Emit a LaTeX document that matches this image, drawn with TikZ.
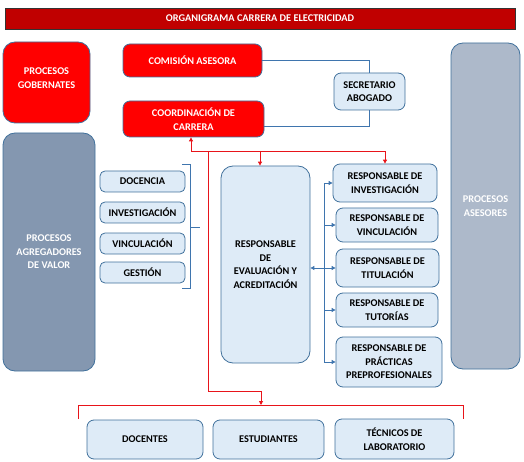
\documentclass[tikz,border=0pt]{standalone}
\usepackage{fontspec}
\setmainfont{Carlito}
\usetikzlibrary{arrows.meta}
\definecolor{titred}{HTML}{C00000}
\definecolor{boxred}{HTML}{FF0000}
\definecolor{edgeblue}{HTML}{41719C}
\definecolor{lightbox}{HTML}{DEEBF7}
\definecolor{agrfill}{HTML}{8497B0}
\definecolor{asefill}{HTML}{ADB9CA}
\definecolor{linkblue}{HTML}{3F75AE}
\definecolor{linkred}{HTML}{E8141A}
\tikzset{
  base/.style={draw=edgeblue, line width=0.8pt, rounded corners=7pt, align=center,
    font=\fontsize{10.3}{13.5}\selectfont\bfseries, inner sep=0pt},
  redbox/.style={base, fill=boxred, text=white},
  lbox/.style={base, fill=lightbox, text=black},
  bigbox/.style={base, rounded corners=12pt, text=white},
  redlink/.style={draw=linkred, line width=0.9pt},
  bluelink/.style={draw=linkblue, line width=0.9pt},
  tipr/.style={-{Triangle[length=4pt,width=4pt]}},
}
\begin{document}
\begin{tikzpicture}[x=1pt,y=-1pt]
\useasboundingbox (0,0) rectangle (524,462);
% title
\node[draw=black!80, line width=0.6pt, fill=titred, text=white, minimum width=510pt, minimum height=21pt,
  font=\fontsize{10.3}{12}\selectfont\bfseries, inner sep=0pt] (title) at (260,18.5) {ORGANIGRAMA CARRERA DE ELECTRICIDAD};
% big side boxes
\node[redbox, rounded corners=12pt, minimum width=87pt, minimum height=81pt, text depth=9pt] (gob) at (46.5,82.5) {PROCESOS\\GOBERNATES};
\node[bigbox, fill=agrfill, minimum width=92pt, minimum height=238pt] (agr) at (49,252) {PROCESOS\\AGREGADORES\\DE VALOR};
\node[bigbox, fill=asefill, minimum width=69pt, minimum height=326pt] (ase) at (485.5,206) {PROCESOS\\ASESORES};
% top
\node[redbox, minimum width=139pt, minimum height=33pt] (com) at (192.5,60.5) {COMISIÓN ASESORA};
\node[redbox, minimum width=141pt, minimum height=36pt] (coord) at (193.5,119) {COORDINACIÓN DE\\CARRERA};
\node[lbox, minimum width=71pt, minimum height=37pt] (sec) at (369.5,91.5) {SECRETARIO\\ABOGADO};
% left column
\node[lbox, rounded corners=5pt, minimum width=85pt, minimum height=21pt] (doc) at (142.5,181.5) {DOCENCIA};
\node[lbox, rounded corners=5pt, minimum width=85pt, minimum height=21pt] (inv) at (142.5,212.5) {INVESTIGACIÓN};
\node[lbox, rounded corners=5pt, minimum width=85pt, minimum height=21pt] (vin) at (142.5,243.5) {VINCULACIÓN};
\node[lbox, rounded corners=5pt, minimum width=85pt, minimum height=21pt] (ges) at (142.5,272.5) {GESTIÓN};
% evaluation
\node[lbox, rounded corners=12pt, minimum width=89pt, minimum height=197pt] (eval) at (265.5,264.5) {RESPONSABLE\\DE\\EVALUACIÓN Y\\ACREDITACIÓN};
% right column
\node[lbox, minimum width=104pt, minimum height=38pt] (rinv) at (385,183) {RESPONSABLE DE\\INVESTIGACIÓN};
\node[lbox, minimum width=102pt, minimum height=34pt] (rvin) at (387,225) {RESPONSABLE DE\\VINCULACIÓN};
\node[lbox, minimum width=103pt, minimum height=38pt] (rtit) at (387.5,268) {RESPONSABLE DE\\TITULACIÓN};
\node[lbox, minimum width=102pt, minimum height=34pt] (rtut) at (387,310) {RESPONSABLE DE\\TUTORÍAS};
\node[lbox, minimum width=106pt, minimum height=50pt] (rprac) at (389,362) {RESPONSABLE DE\\PRÁCTICAS\\PREPROFESIONALES};
% bottom
\node[lbox, minimum width=116pt, minimum height=39pt] (docen) at (145,439.5) {DOCENTES};
\node[lbox, minimum width=111pt, minimum height=39pt] (estu) at (268.5,439.5) {ESTUDIANTES};
\node[lbox, minimum width=119pt, minimum height=40pt] (tecn) at (394.5,439) {TÉCNICOS DE\\LABORATORIO};
% blue links top
\coordinate (c1) at (264,126);
\draw[bluelink] (com.east) -| (sec.north);
\draw[bluelink] (sec.south) |- (c1);
% left bracket
\coordinate (b1) at (182,164);
\coordinate (b2) at (190,164);
\coordinate (b3) at (190,288);
\coordinate (b4) at (182,288);
\coordinate (bm) at (190,227);
\coordinate (bt) at (200,227);
\draw[bluelink] (b1) -- (b2) -- (b3) -- (b4);
\draw[bluelink] (bm) -- (bt);
% right trunk
\coordinate (t1) at (324,183);
\coordinate (t2) at (324,363);
\draw[bluelink] (t1) -- (t2);
\foreach \n in {rinv,rvin,rtit,rtut,rprac}
  \draw[bluelink, tipr] (t1 |- \n.west) -- (\n.west);
\draw[bluelink, {Triangle[length=4pt,width=4pt]}-] (eval.east |- rtit.west) -- (t1 |- rtit.west);
% red links
\coordinate (r0) at (191,151);
\coordinate (r1) at (260,151);
\coordinate (r2) at (208,151);
\coordinate (r3) at (208,391);
\coordinate (r4) at (261,391);
\coordinate (r5) at (261,405);
\coordinate (k1) at (78,419);
\coordinate (k2) at (78,405);
\coordinate (k3) at (463,405);
\coordinate (k4) at (463,419);
\draw[redlink, tipr] (r0) -- (r0 |- coord.south);
\draw[redlink, tipr] (r0) -| (rinv.north);
\draw[redlink, tipr] (r1) -- (r1 |- eval.north);
\draw[redlink, tipr] (r2) -- (r3) -- (r4) -- (r5);
\draw[redlink] (k1) -- (k2) -- (k3) -- (k4);
\end{tikzpicture}
\end{document}
